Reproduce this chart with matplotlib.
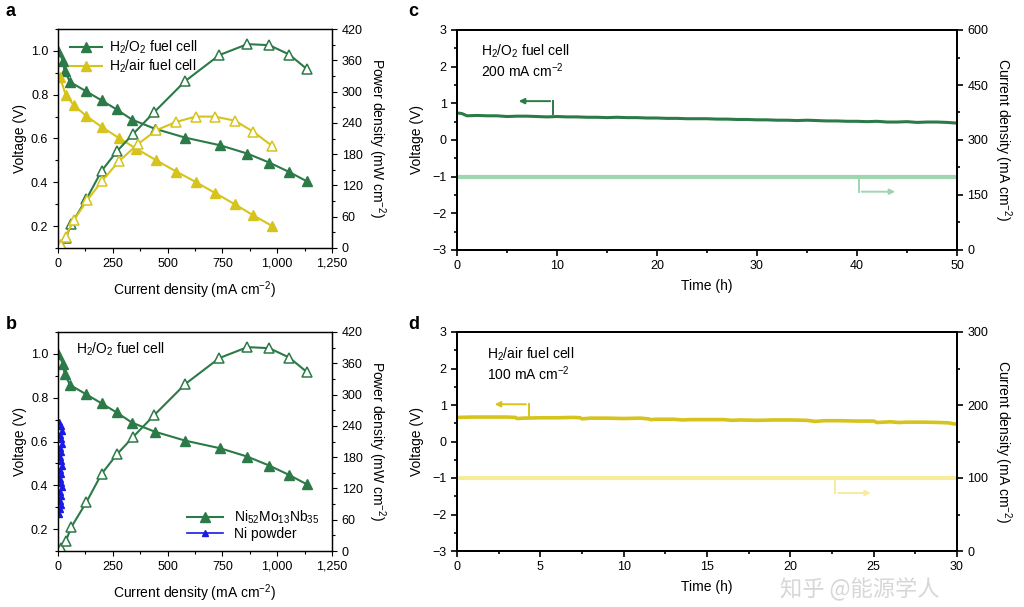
import matplotlib
matplotlib.use("Agg")
import matplotlib.pyplot as plt
from matplotlib.ticker import MultipleLocator, FuncFormatter

plt.rcParams['font.family'] = ['Liberation Sans', 'DejaVu Sans']
plt.rcParams['mathtext.default'] = 'regular'
plt.rcParams['font.size'] = 9

# ---------------- data ----------------
# Panel a/b : H2/O2 fuel cell (Ni52Mo13Nb35)
o2_i_v = [2, 23, 30, 55, 126, 199, 267, 338, 441, 580, 740, 864, 964, 1055, 1136]
o2_v = [1.00, 0.953, 0.909, 0.858, 0.817, 0.774, 0.733, 0.686, 0.645, 0.604, 0.569, 0.531, 0.490, 0.447, 0.404]
o2_i_p = [12, 35, 61, 130, 199, 270, 341, 440, 580, 736, 864, 964, 1055, 1136]
o2_p = [5.8, 18.6, 46, 94, 148, 186, 218, 261, 320, 370, 391, 389, 371, 343]

# Panel a : H2/air fuel cell
air_i_v = [9, 35, 73, 130, 202, 277, 358, 449, 540, 629, 717, 808, 891, 976]
air_v = [0.88, 0.80, 0.751, 0.702, 0.651, 0.603, 0.553, 0.500, 0.449, 0.401, 0.351, 0.299, 0.249, 0.201]
air_i_p = [12, 35, 73, 134, 202, 277, 364, 449, 540, 629, 717, 808, 891, 976]
air_p = [6, 22, 54, 92, 129, 166, 199, 226, 242, 252, 252, 244, 223, 196]

# Panel b : Ni powder
ni_i = [6, 12, 16, 9, 14, 18, 10, 15, 8, 13, 17, 10, 15, 8, 12, 16, 9, 14, 7, 12, 8, 5]
ni_v = [0.69, 0.67, 0.65, 0.63, 0.61, 0.59, 0.57, 0.55, 0.53, 0.51, 0.49, 0.47, 0.45,
        0.43, 0.41, 0.39, 0.37, 0.35, 0.33, 0.31, 0.29, 0.27]

# Panel c : H2/O2 stability at 200 mA cm-2
tc = [0, 0.5, 1, 2, 3, 4, 5, 6, 7, 8, 9, 10, 11, 12, 13, 14, 15, 16, 17, 18, 19, 20,
      21, 22, 23, 24, 25, 26, 27, 28, 29, 30, 31, 32, 33, 34, 35, 36, 37, 38, 39, 40,
      41, 42, 43, 44, 45, 46, 47, 48, 49, 50]
vc = [0.74, 0.72, 0.66, 0.67, 0.66, 0.66, 0.64, 0.65, 0.65, 0.64, 0.63, 0.64, 0.63,
      0.63, 0.62, 0.62, 0.61, 0.62, 0.61, 0.61, 0.60, 0.60, 0.59, 0.59, 0.58, 0.58,
      0.58, 0.57, 0.57, 0.56, 0.56, 0.55, 0.55, 0.54, 0.54, 0.53, 0.54, 0.53, 0.52,
      0.52, 0.51, 0.51, 0.50, 0.51, 0.49, 0.49, 0.50, 0.48, 0.49, 0.49, 0.48, 0.46]
ic_t = [0, 50]
ic = [200, 200]

# Panel d : H2/air stability at 100 mA cm-2
td = [0, 1, 2, 3, 3.5, 3.6, 4, 5, 6, 7, 7.4, 7.5, 8, 9, 10, 11, 11.5, 11.6, 12, 13,
      13.5, 14, 15, 16, 16.5, 17, 18, 19, 20, 21, 21.5, 22, 23, 24, 25, 25.2, 26, 26.5,
      27, 28, 29, 29.5, 30]
vd = [0.66, 0.67, 0.67, 0.67, 0.66, 0.63, 0.64, 0.65, 0.65, 0.66, 0.65, 0.62, 0.64,
      0.64, 0.63, 0.64, 0.62, 0.60, 0.61, 0.61, 0.59, 0.60, 0.60, 0.60, 0.58, 0.59,
      0.58, 0.59, 0.59, 0.58, 0.55, 0.57, 0.57, 0.56, 0.56, 0.52, 0.54, 0.52, 0.53,
      0.53, 0.52, 0.51, 0.47]
id_t = [0, 30]
idd = [100, 100]

# ---------------- styles ----------------
GREEN = '#2b7a47'
YELLOW = '#d6c41c'
LGREEN = '#9ed6b0'
LYELLOW = '#f6ec9c'
BLUE = '#1a1ae6'

fig = plt.figure(figsize=(10.24, 6.07), dpi=100)
W, H = 1024, 607


def ax_rect(l, r, t, b):
    return [l / W, (H - b) / H, (r - l) / W, (b - t) / H]


def comma(x, pos):
    return f"{int(x):,}"


def style_ivp(ax, ax2):
    ax.set_xlim(0, 1250)
    ax.set_ylim(0.1, 1.1)
    ax2.set_ylim(0, 420)
    ax.xaxis.set_major_locator(MultipleLocator(250))
    ax.xaxis.set_minor_locator(MultipleLocator(125))
    ax.xaxis.set_major_formatter(FuncFormatter(comma))
    ax.yaxis.set_major_locator(MultipleLocator(0.2))
    ax.yaxis.set_minor_locator(MultipleLocator(0.1))
    ax.yaxis.set_major_formatter(FuncFormatter(lambda v, p: f"{v:.1f}"))
    ax2.yaxis.set_major_locator(MultipleLocator(60))
    ax2.yaxis.set_minor_locator(MultipleLocator(30))
    for a in (ax, ax2):
        a.tick_params(which='major', direction='out', length=3.5, width=0.8, labelsize=9)
        a.tick_params(which='minor', direction='out', length=2, width=0.8)
        for s in a.spines.values():
            s.set_linewidth(0.9)
    ax.set_xlabel('Current density (mA cm$^{-2}$)', fontsize=10, labelpad=7)
    ax.set_ylabel('Voltage (V)', fontsize=10, labelpad=3)
    ax2.set_ylabel('Power density (mW cm$^{-2}$)', fontsize=10, rotation=270, labelpad=18)


mk = dict(marker='^', markersize=6.5, linewidth=1.5)

# ---- panel a ----
axa = fig.add_axes(ax_rect(58, 332, 29, 248))
axa2 = axa.twinx()
l1, = axa.plot(o2_i_v, o2_v, color=GREEN, markerfacecolor=GREEN, markeredgecolor=GREEN, **mk)
l2, = axa.plot(air_i_v, air_v, color=YELLOW, markerfacecolor=YELLOW, markeredgecolor=YELLOW, **mk)
axa2.plot(o2_i_p, o2_p, color=GREEN, markerfacecolor='white', markeredgecolor=GREEN, markeredgewidth=1.1, **mk)
axa2.plot(air_i_p, air_p, color=YELLOW, markerfacecolor='white', markeredgecolor=YELLOW, markeredgewidth=1.1, **mk)
style_ivp(axa, axa2)
axa.legend([l1, l2], ['H$_2$/O$_2$ fuel cell', 'H$_2$/air fuel cell'], loc='upper left',
           frameon=False, fontsize=10, handlelength=2.3, handletextpad=0.5, borderaxespad=0.3,
           labelspacing=0.1, bbox_to_anchor=(0.01, 1.0))

# ---- panel b ----
axb = fig.add_axes(ax_rect(58, 332, 332, 551))
axb2 = axb.twinx()
m1, = axb.plot(o2_i_v, o2_v, color=GREEN, markerfacecolor=GREEN, markeredgecolor=GREEN, **mk)
axb2.plot(o2_i_p, o2_p, color=GREEN, markerfacecolor='white', markeredgecolor=GREEN, markeredgewidth=1.1, **mk)
m2, = axb.plot(ni_i, ni_v, color=BLUE, marker='^', markersize=5, linewidth=1.2,
               markerfacecolor=BLUE, markeredgecolor=BLUE)
style_ivp(axb, axb2)
axb.text(80, 1.02, 'H$_2$/O$_2$ fuel cell', fontsize=10, va='center', ha='left')
axb.legend([m1, m2], ['Ni$_{52}$Mo$_{13}$Nb$_{35}$', 'Ni powder'], loc='lower right',
           frameon=False, fontsize=10, handlelength=2.6, borderaxespad=0.3,
           labelspacing=0.1, bbox_to_anchor=(0.99, 0.0))


# ---- panels c, d ----
def style_stab(ax, ax2, tmax, tstep, cmax, cstep):
    ax.set_xlim(0, tmax)
    ax.set_ylim(-3, 3)
    ax2.set_ylim(0, cmax)
    ax.xaxis.set_major_locator(MultipleLocator(tstep))
    ax.xaxis.set_minor_locator(MultipleLocator(tstep / 2))
    ax.yaxis.set_major_locator(MultipleLocator(1))
    ax.yaxis.set_minor_locator(MultipleLocator(0.5))
    ax2.yaxis.set_major_locator(MultipleLocator(cstep))
    ax2.yaxis.set_minor_locator(MultipleLocator(cstep / 2))
    for a in (ax, ax2):
        a.tick_params(which='major', direction='out', length=4, width=1.2, labelsize=9)
        a.tick_params(which='minor', direction='out', length=2.5, width=1.2)
        for s in a.spines.values():
            s.set_linewidth(1.4)
    ax.set_xlabel('Time (h)', fontsize=10, labelpad=5)
    ax.set_ylabel('Voltage (V)', fontsize=10, labelpad=6)
    ax2.set_ylabel('Current density (mA cm$^{-2}$)', fontsize=10, rotation=270, labelpad=18)


axc = fig.add_axes(ax_rect(457, 957, 30, 250))
axc2 = axc.twinx()
axc2.plot(ic_t, ic, color=LGREEN, linewidth=3)
axc.plot(tc, vc, color=GREEN, linewidth=2.2)
style_stab(axc, axc2, 50, 10, 600, 150)
axc.text(2.4, 2.65, 'H$_2$/O$_2$ fuel cell\n200 mA cm$^{-2}$', fontsize=10, va='top', ha='left',
         linespacing=1.05)
axc.annotate('', xy=(5.9, 1.06), xytext=(9.6, 1.06),
             arrowprops=dict(arrowstyle='-|>', color=GREEN, lw=1.4, mutation_scale=8))
axc.plot([9.6, 9.6], [1.06, 0.70], color=GREEN, lw=1.4)
axc2.plot([40.2, 40.2], [194, 159], color=LGREEN, lw=1.4)
axc2.annotate('', xy=(44.1, 159), xytext=(40.2, 159),
              arrowprops=dict(arrowstyle='-|>', color=LGREEN, lw=1.4, mutation_scale=8))
axc.set_zorder(axc2.get_zorder() + 1)
axc.patch.set_visible(False)

axd = fig.add_axes(ax_rect(457, 957, 332, 551))
axd2 = axd.twinx()
axd2.plot(id_t, idd, color=LYELLOW, linewidth=3)
axd.plot(td, vd, color=YELLOW, linewidth=2.6)
style_stab(axd, axd2, 30, 5, 300, 100)
axd.text(1.8, 2.62, 'H$_2$/air fuel cell\n100 mA cm$^{-2}$', fontsize=10, va='top', ha='left',
         linespacing=1.05)
axd.annotate('', xy=(2.1, 1.02), xytext=(4.3, 1.02),
             arrowprops=dict(arrowstyle='-|>', color=YELLOW, lw=1.4, mutation_scale=8))
axd.plot([4.3, 4.3], [1.02, 0.70], color=YELLOW, lw=1.4)
axd2.plot([22.7, 22.7], [96, 79.5], color=LYELLOW, lw=1.4)
axd2.annotate('', xy=(25.0, 79.5), xytext=(22.7, 79.5),
              arrowprops=dict(arrowstyle='-|>', color=LYELLOW, lw=1.4, mutation_scale=8))
axd.set_zorder(axd2.get_zorder() + 1)
axd.patch.set_visible(False)

# panel labels
for lab, x, y in [('a', 6, 12), ('b', 6, 325), ('c', 408, 12), ('d', 408, 325)]:
    fig.text(x / W, 1 - y / H, lab, fontsize=13, fontweight='bold', va='center', ha='left')

# watermark
fig.text(780 / W, 1 - 589 / H, '知乎 @能源学人', fontsize=16, color='#d0d0d0', alpha=0.85,
         va='center', ha='left', family=['Noto Sans CJK SC', 'DejaVu Sans'])

fig.savefig('out.png', dpi=100)
